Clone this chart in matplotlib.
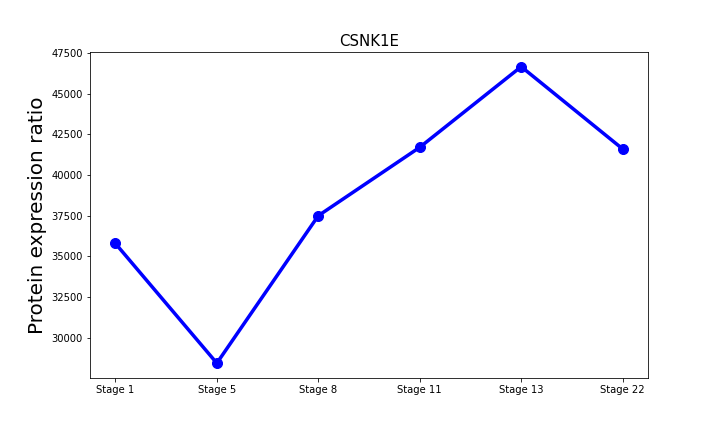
import matplotlib
matplotlib.use("Agg")
from matplotlib import pyplot as plt

# stages and measured values for CSNK1E
stages = ["Stage 1", "Stage 5", "Stage 8", "Stage 11", "Stage 13", "Stage 22"]
expression = [35800, 28450, 37500, 41700, 46650, 41600]

fig, ax = plt.subplots(figsize=(10, 6), dpi=72)
fig.subplots_adjust(left=0.125, right=0.9, top=0.88, bottom=0.125)
ax.plot(stages, expression, color="blue", linewidth=3.5, marker="o", markersize=10)
ax.set_title("CSNK1E", fontsize=15)
ax.set_ylabel("Protein expression ratio", fontsize=20)
fig.savefig("out.png")
